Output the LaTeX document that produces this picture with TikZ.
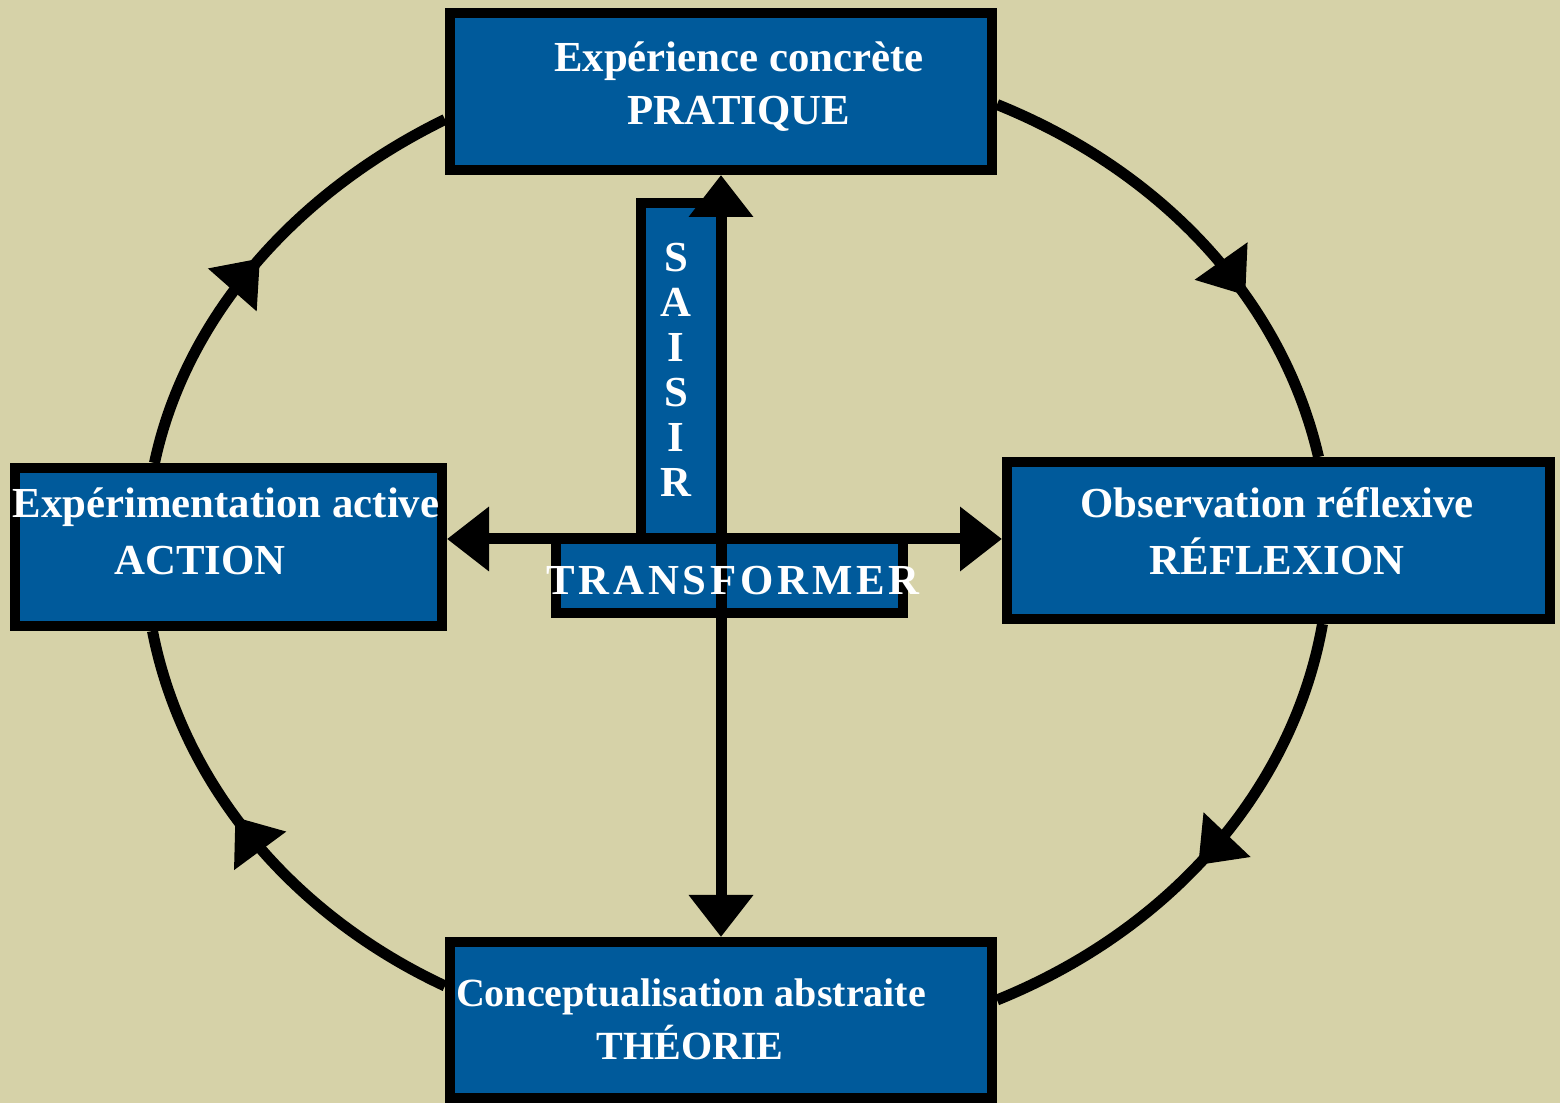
\documentclass[tikz,border=0pt]{standalone}
\usepackage{fontspec}
\setmainfont{Liberation Serif}
\usetikzlibrary{arrows.meta,decorations.markings}
\definecolor{bgsand}{RGB}{214,210,168}
\definecolor{boxblue}{RGB}{0,90,155}

\begin{document}
\begin{tikzpicture}[>={Triangle[length=21pt,width=31pt]},x=0.5pt,y=0.5pt]
        \tikzset{block/.style={draw, rectangle, fill=boxblue, line width=5pt, inner sep=0pt},
        lbl/.style={text=white, anchor=base, inner sep=0pt, font=\fontsize{21.4}{25}\selectfont\bfseries},
        link/.style={draw, line width=5.5pt},
        cyc/.style={link, postaction={decorate},
            decoration={markings, mark=at position #1 with {\arrow{>}}}},
        }
        \path[use as bounding box, fill=bgsand] (0,0) rectangle (1560,1103);
%% boxes
        \node [block, minimum width=271pt, minimum height=78.5pt] (prat) at (721,1011.5) {};
        \node [block, minimum width=213.5pt, minimum height=79pt] (act) at (228.5,556) {};
        \node [block, minimum width=271.5pt, minimum height=78.5pt] (refl) at (1278.5,562.5) {};
        \node [block, minimum width=271pt, minimum height=78pt] (theo) at (721,83) {};
        \node [block, minimum width=40.5pt, minimum height=168pt] (sais) at (681.5,732) {};
        \node [block, minimum width=173.5pt, minimum height=37pt] (trans) at (729.5,527) {};
%% cycle
        \draw[cyc=0.64] ([yshift=-6.5pt]prat.east)
            to[out=-22,in=103,out looseness=0.97,in looseness=0.85] ([xshift=20pt]refl.north);
        \draw[cyc=0.53] ([xshift=22pt]refl.south)
            to[out=-100,in=22,out looseness=0.85,in looseness=0.98] ([yshift=10pt]theo.east);
        \draw[cyc=0.57] ([yshift=17pt]theo.west)
            to[out=155,in=-79,out looseness=0.96,in looseness=0.85] ([xshift=-38pt]act.south);
        \draw[cyc=0.5] ([xshift=-37pt]act.north)
            to[out=78,in=206,out looseness=0.84,in looseness=0.96] ([yshift=-14pt]prat.west);
%% paths
        \coordinate (hub) at (721,564);
        \draw[link,<->] (act.east |- hub) -- (refl.west |- hub);
        \draw[link,<->] (theo) -- (prat);
%% texts
        \node [lbl] (pratA) at (739,1031) {Expérience concrète};
        \node [lbl] (pratB) at (739,978) {PRATIQUE};
        \node [lbl] (actA) at (226,585) {Expérimentation active};
        \node [lbl] (actB) at (200,528) {ACTION};
        \node [lbl] (reflA) at (1277,585) {Observation réflexive};
        \node [lbl] (reflB) at (1277,528) {RÉFLEXION};
        \node [lbl, font=\fontsize{20}{24}\selectfont\bfseries] (theoA) at (691,96) {Conceptualisation abstraite};
        \node [lbl, font=\fontsize{20}{24}\selectfont\bfseries] (theoB) at (690,43) {THÉORIE};
        \node [lbl, font=\fontsize{21.4}{25}\selectfont\bfseries\addfontfeature{LetterSpace=9}] (transA) at (733,508) {TRANSFORMER};
        \foreach \c [count=\i] in {S,A,I,S,I,R}
            \node [lbl] (sais\i) at (676,876-45*\i) {\c};
    \end{tikzpicture}
\end{document}
